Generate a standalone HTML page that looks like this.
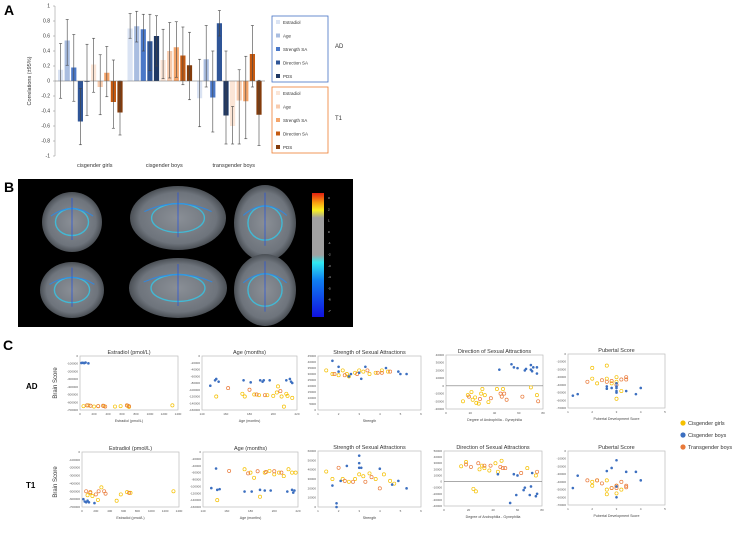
<!DOCTYPE html>
<html><head><meta charset="utf-8">
<style>
html,body{margin:0;padding:0;background:#fff;}
svg{display:block;font-family:"Liberation Sans",sans-serif;}
</style></head>
<body>
<svg id="fig" width="733" height="539" viewBox="0 0 733 539" xmlns="http://www.w3.org/2000/svg">
<defs>
<radialGradient id="brainG" cx="50%" cy="50%" r="50%"><stop offset="0" stop-color="#8a8f96"/><stop offset="0.8" stop-color="#6e747c"/><stop offset="1" stop-color="#4a4f55"/></radialGradient>
<linearGradient id="cbar" x1="0" y1="0" x2="0" y2="1">
<stop offset="0" stop-color="#e02010"/><stop offset="0.08" stop-color="#f8a010"/><stop offset="0.14" stop-color="#f8f020"/><stop offset="0.2" stop-color="#a0a0a0"/><stop offset="0.5" stop-color="#a0a0a0"/><stop offset="0.56" stop-color="#30e8f0"/><stop offset="0.7" stop-color="#1080f0"/><stop offset="1" stop-color="#1010e0"/></linearGradient>
</defs>
<g id="panelA"></g>
<g id="panelB"></g>
<g id="panelC"></g>
</svg>
<script>
// ---------- Panel A data ----------
const groups = ["cisgender girls","cisgender boys","transgender boys"];
const seriesNames = ["Estradiol","Age","Strength SA","Direction SA","PDS"];
const adValues = [[0.15,0.54,0.18,-0.54,-0.01],[0.70,0.73,0.69,0.53,0.60],[-0.23,0.29,-0.22,0.77,-0.46]];
const adLow = [[-0.23,0.21,-0.27,-0.85,-0.46],[0.57,0.52,0.40,0.14,0.20],[-0.61,-0.08,-0.68,0.60,-0.84]];
const adHigh = [[0.50,0.82,0.62,-0.10,0.49],[0.90,0.93,0.89,0.89,0.87],[0.29,0.74,0.40,0.94,0.40]];
const t1Values = [[0.22,-0.08,0.11,-0.28,-0.42],[0.28,0.40,0.45,0.34,0.21],[-0.60,-0.26,-0.27,0.36,-0.45]];
const t1Low = [[-0.15,-0.45,-0.21,-0.63,-0.72],[0.03,0.04,0.05,-0.05,-0.25],[-0.84,-0.84,-0.77,-0.08,-0.86]];
const t1High = [[0.57,0.35,0.46,0.28,0.00],[0.69,0.78,0.79,0.72,0.65],[-0.34,0.15,0.33,0.74,0.01]];
const yTicksA = [1,0.8,0.6,0.4,0.2,0,-0.2,-0.4,-0.6,-0.8,-1];

// ---------- Panel C data: [x,y] pairs ----------
const adEstGirls=[[50,-650000],[120,-640000],[200,-655000],[260,-650000],[340,-648000],[500,-655000],[580,-650000],[680,-645000],[700,-660000],[1320,-640000]];
const adEstBoys=[[20,-90000],[40,-88000],[60,-92000],[80,-85000],[120,-95000]];
const adEstTrans=[[100,-640000],[150,-645000],[260,-650000],[330,-645000],[360,-655000],[670,-640000],[700,-650000]];
const adAgeGirls=[[152,-120000],[174,-112000],[176,-120000],[184,-114000],[188,-116000],[195,-116000],[200,-118000],[204,-90000],[207,-120000],[209,-150000],[211,-112000],[212,-118000],[216,-124000],[203,-108000]];
const adAgeBoys=[[147,-88000],[151,-72000],[152,-68000],[154,-76000],[175,-72000],[181,-78000],[189,-72000],[191,-76000],[192,-72000],[197,-72000],[211,-72000],[214,-68000],[215,-76000],[216,-80000]];
const adAgeTrans=[[162,-95000],[180,-100000],[186,-114000],[193,-116000],[206,-104000]];
const adStrGirls=[[1.4,33000],[1.7,30000],[2.0,29000],[2.2,33000],[2.4,30000],[2.5,28000],[2.8,31000],[3.0,33000],[3.2,32000],[3.5,30000],[3.8,31000],[4.1,33000],[4.4,32000]];
const adStrBoys=[[1.7,41000],[2.0,32000],[2.0,36000],[2.5,28000],[2.6,30000],[3.0,31000],[3.1,26000],[3.3,36000],[4.3,35000],[4.9,32000],[5.0,30000],[5.3,30000]];
const adStrTrans=[[1.8,30000],[2.3,29000],[2.9,30000],[3.4,33000],[3.9,31000],[4.1,31000],[4.5,32000]];
const adDirGirls=[[14,-20000],[18,-12000],[21,-8000],[22,-18000],[24,-15000],[25,-22000],[27,-23000],[29,-10000],[30,-4000],[32,-12000],[35,-21000],[42,-4000],[47,-4000],[70,-2000],[75,-12000]];
const adDirBoys=[[44,21000],[54,28000],[56,24000],[59,23000],[65,20000],[66,22000],[70,27000],[70,21000],[71,19000],[72,24000],[75,24000],[75,16000]];
const adDirTrans=[[19,-14000],[28,-17000],[37,-16000],[45,-10000],[46,-14000],[48,-10000],[50,-18000],[63,-14000],[76,-20000]];
const adPubGirls=[[2.0,-18000],[2.0,-32000],[2.6,-15000],[2.6,-32000],[2.8,-38000],[3.0,-30000],[3.0,-36000],[3.0,-58000],[3.2,-48000],[2.2,-38000]];
const adPubBoys=[[1.2,-54000],[1.4,-52000],[2.6,-42000],[2.6,-45000],[2.8,-44000],[3.0,-38000],[3.0,-42000],[3.0,-44000],[3.0,-48000],[3.0,-50000],[3.4,-48000],[3.8,-52000],[4.0,-44000]];
const adPubTrans=[[1.8,-36000],[2.4,-34000],[2.6,-36000],[2.8,-35000],[3.0,-40000],[3.2,-33000],[3.4,-30000],[3.4,-33000]];
const t1EstGirls=[[80,-550000],[120,-520000],[150,-560000],[230,-610000],[280,-450000],[500,-620000],[560,-540000],[650,-510000],[700,-520000],[1320,-500000]];
const t1EstBoys=[[20,-600000],[40,-630000],[60,-640000],[80,-620000],[100,-640000],[180,-650000]];
const t1EstTrans=[[60,-500000],[120,-510000],[200,-540000],[240,-500000],[320,-500000],[340,-530000],[680,-520000]];
const t1AgeGirls=[[152,-140000],[175,-50000],[180,-60000],[183,-75000],[188,-130000],[192,-60000],[196,-55000],[200,-65000],[204,-60000],[208,-70000],[212,-50000],[215,-60000],[218,-60000]];
const t1AgeBoys=[[147,-105000],[151,-48000],[152,-110000],[154,-108000],[175,-115000],[181,-115000],[188,-110000],[192,-112000],[197,-112000],[211,-115000],[215,-110000],[216,-118000],[217,-112000]];
const t1AgeTrans=[[162,-55000],[178,-62000],[186,-56000],[193,-58000],[200,-56000],[206,-60000]];
const t1StrGirls=[[1.4,38000],[1.7,30000],[2.2,30000],[2.5,27000],[2.8,30000],[3.0,35000],[3.2,33000],[3.5,36000],[3.8,30000],[4.2,35000],[4.5,28000],[4.7,25000]];
const t1StrBoys=[[1.7,23000],[1.9,4000],[1.9,0],[2.1,28000],[2.4,44000],[3.0,55000],[3.0,47000],[3.0,42000],[3.1,42000],[4.0,41000],[4.6,24000],[4.9,28000],[5.3,20000]];
const t1StrTrans=[[2.0,42000],[2.3,28000],[2.7,27000],[3.3,27000],[3.6,32000],[4.0,20000]];
const t1DirGirls=[[14,25000],[18,32000],[24,-12000],[26,-16000],[29,20000],[31,26000],[33,22000],[37,18000],[42,30000],[44,16000],[47,34000],[68,22000],[75,10000]];
const t1DirBoys=[[44,12000],[54,-35000],[57,12000],[59,-22000],[60,10000],[65,-14000],[66,-10000],[70,-22000],[71,-8000],[72,14000],[75,-24000],[76,-20000]];
const t1DirTrans=[[18,28000],[22,24000],[28,30000],[33,26000],[38,26000],[46,24000],[48,22000],[50,22000],[63,14000],[76,16000]];
const t1PubGirls=[[2.0,-40000],[2.0,-45000],[2.6,-38000],[2.6,-50000],[2.6,-56000],[2.8,-48000],[3.0,-45000],[3.0,-55000],[3.2,-50000],[2.2,-38000]];
const t1PubBoys=[[1.2,-48000],[1.4,-32000],[2.6,-26000],[2.8,-22000],[3.0,-12000],[3.0,-46000],[3.0,-60000],[3.4,-27000],[3.8,-27000],[4.0,-38000]];
const t1PubTrans=[[1.8,-38000],[2.2,-38000],[2.4,-42000],[2.8,-48000],[3.0,-45000],[3.0,-48000],[3.2,-40000],[3.4,-45000],[3.4,-47000]];

const NS="http://www.w3.org/2000/svg";
function mk(tag,attrs,parent){const e=document.createElementNS(NS,tag);for(const k in attrs)e.setAttribute(k,attrs[k]);parent.appendChild(e);return e;}
function txt(s,attrs,parent){const e=mk("text",attrs,parent);e.textContent=s;return e;}

// ---------- Panel A ----------
(function(){
const g=document.getElementById("panelA");
const adCol=["#dae3f3","#a9bde0","#4a78c8","#2f5597","#1f3864"];
const t1Col=["#fbe5d6","#f8cbad","#f4a46a","#c55a11","#843c0c"];
const y=v=>81-v*75;
const x0=56, gw=69.5, bw=6.6;
const lbl=txt("A",{x:4,y:15,"font-size":14,"font-weight":"bold"},g);

yTicksA.forEach(t=>{
  const tl=txt(String(t),{x:50,y:y(t)+1.5,"font-size":5,"text-anchor":"end",fill:"#333"},g);
  
  mk("line",{x1:53,x2:55,y1:y(t),y2:y(t),stroke:"#888","stroke-width":0.5},g);
});
mk("line",{x1:55,x2:55,y1:y(1),y2:y(-1),stroke:"#888","stroke-width":0.5},g);
const yt=txt("Correlations (±95%)",{transform:"translate(31,81) rotate(-90)","font-size":5.5,"text-anchor":"middle",fill:"#333"},g);

groups.forEach((gn,gi)=>{
  for(let s=0;s<10;s++){
    const isAD=s<5, k=s%5;
    const v=isAD?adValues[gi][k]:t1Values[gi][k];
    const lo=isAD?adLow[gi][k]:t1Low[gi][k];
    const hi=isAD?adHigh[gi][k]:t1High[gi][k];
    const bx=x0+gi*gw+2+s*bw;
    const r=mk("rect",{x:bx,y:Math.min(y(v),y(0)),width:bw-1.4,height:Math.abs(y(v)-y(0)),fill:isAD?adCol[k]:t1Col[k]},g);
    
    
    const cx=bx+(bw-1.4)/2;
    mk("line",{x1:cx,x2:cx,y1:y(hi),y2:y(lo),stroke:"#444","stroke-width":0.6},g);
    mk("line",{x1:cx-1.5,x2:cx+1.5,y1:y(hi),y2:y(hi),stroke:"#444","stroke-width":0.6},g);
    mk("line",{x1:cx-1.5,x2:cx+1.5,y1:y(lo),y2:y(lo),stroke:"#444","stroke-width":0.6},g);
  }
  const gl=txt(gn,{x:x0+gi*gw+gw/2+4,y:167,"font-size":5.5,"text-anchor":"middle",fill:"#333"},g);
  
});
mk("line",{x1:55,x2:265,y1:y(0),y2:y(0),stroke:"#666","stroke-width":0.6},g);
// legends
[[16,adCol,"#4472c4","AD",48],[87,t1Col,"#ed7d31","T1",120]].forEach(([top,cols,bc,nm,ly])=>{
  const box=mk("rect",{x:272,y:top,width:56,height:66,fill:"#fff",stroke:bc,"stroke-width":0.8},g);
  
  seriesNames.forEach((sn,i)=>{
    mk("rect",{x:276,y:top+4+i*13.5,width:4,height:4,fill:cols[i]},g);
    const e=txt(sn,{x:283,y:top+8+i*13.5,"font-size":4.5,fill:"#333"},g);
    
  });
  const t=txt(nm,{x:335,y:ly,"font-size":6,fill:"#333"},g);
  
});
})();

// ---------- Panel B ----------
(function(){
const g=document.getElementById("panelB");
const l=txt("B",{x:4,y:192,"font-size":14,"font-weight":"bold"},g);

const bg=mk("rect",{x:18,y:179,width:335,height:148,fill:"#000"},g);

const brains=[[72,222,30,30],[178,218,48,32],[265,223,31,38],[72,290,32,28],[178,288,49,30],[265,290,31,36]];
brains.forEach((b,i)=>{
  const e=mk("ellipse",{cx:b[0],cy:b[1],rx:b[2],ry:b[3],fill:"url(#brainG)"},g);
  
  mk("ellipse",{cx:b[0],cy:b[1],rx:b[2]*0.55,ry:b[3]*0.45,fill:"none",stroke:"#35c8e8","stroke-width":1.4,opacity:0.8},g);
  mk("path",{d:`M${b[0]-b[2]*0.7} ${b[1]-b[3]*0.2} Q${b[0]} ${b[1]-b[3]*0.7} ${b[0]+b[2]*0.7} ${b[1]-b[3]*0.2}`,fill:"none",stroke:"#2a8ae8","stroke-width":1.2,opacity:0.8},g);
  mk("line",{x1:b[0],x2:b[0],y1:b[1]-b[3]*0.8,y2:b[1]+b[3]*0.6,stroke:"#2050e0","stroke-width":1,opacity:0.7},g);
});
const cb=mk("rect",{x:312,y:193,width:12,height:124,fill:"url(#cbar)"},g);

["3","2","1","0","-1","-2","-3","-4","-5","-6","-7"].forEach((t,i)=>{
  txt(t,{x:328,y:199+i*11.3,"font-size":3,fill:"#ddd"},g);
});
})();

// ---------- Panel C ----------
(function(){
const g=document.getElementById("panelC");
const l=txt("C",{x:3,y:350,"font-size":14,"font-weight":"bold"},g);

[["AD",389],["T1",488]].forEach(([s,yy])=>{
  const e=txt(s,{x:26,y:yy,"font-size":8,"font-weight":"bold"},g);
  
  const b=txt("Brain Score",{transform:`translate(57,${yy-6}) rotate(-90)`,"font-size":6,"text-anchor":"middle",fill:"#333"},g);
  
});
const cols={g:"#f5c000",b:"#3c6fc0",t:"#e97a3a"};
const plots=[
 {x:80,y:356,w:98,h:54,title:"Estradiol (pmol/L)",xl:"Estradiol (pmol/L)",xr:[0,1400,200],yr:[-700000,0,100000],d:[adEstGirls,adEstBoys,adEstTrans]},
 {x:202,y:356,w:95,h:54,title:"Age (months)",xl:"Age (months)",xr:[140,220,20],yr:[-160000,0,20000],d:[adAgeGirls,adAgeBoys,adAgeTrans]},
 {x:318,y:356,w:103,h:54,title:"Strength of Sexual Attractions",xl:"Strength",xr:[1,6,1],yr:[0,45000,5000],d:[adStrGirls,adStrBoys,adStrTrans]},
 {x:446,y:355,w:97,h:54,title:"Direction of Sexual Attractions",xl:"Degree of Androphilia - Gynephilia",xr:[0,80,20],yr:[-30000,40000,10000],d:[adDirGirls,adDirBoys,adDirTrans],zero:true},
 {x:568,y:354,w:97,h:54,title:"Pubertal Score",xl:"Pubertal Development Score",xr:[1,5,1],yr:[-70000,0,10000],d:[adPubGirls,adPubBoys,adPubTrans]},
 {x:82,y:452,w:97,h:55,title:"Estradiol (pmol/L)",xl:"Estradiol (pmol/L)",xr:[0,1400,200],yr:[-700000,0,100000],d:[t1EstGirls,t1EstBoys,t1EstTrans]},
 {x:203,y:452,w:95,h:55,title:"Age (months)",xl:"Age (months)",xr:[140,220,20],yr:[-160000,0,20000],d:[t1AgeGirls,t1AgeBoys,t1AgeTrans]},
 {x:318,y:451,w:103,h:56,title:"Strength of Sexual Attractions",xl:"Strength",xr:[1,6,1],yr:[0,60000,10000],d:[t1StrGirls,t1StrBoys,t1StrTrans]},
 {x:444,y:451,w:98,h:55,title:"Direction of Sexual Attractions",xl:"Degree of Androphilia - Gynephilia",xr:[0,80,20],yr:[-40000,50000,10000],d:[t1DirGirls,t1DirBoys,t1DirTrans],zero:true},
 {x:568,y:451,w:97,h:54,title:"Pubertal Score",xl:"Pubertal Development Score",xr:[1,5,1],yr:[-70000,0,10000],d:[t1PubGirls,t1PubBoys,t1PubTrans]}
];
plots.forEach((p,pi)=>{
  const sx=v=>p.x+(v-p.xr[0])/(p.xr[1]-p.xr[0])*p.w;
  const sy=v=>p.y+p.h-(v-p.yr[0])/(p.yr[1]-p.yr[0])*p.h;
  const fr=mk("rect",{x:p.x,y:p.y,width:p.w,height:p.h,fill:"#fff",stroke:"#bbb","stroke-width":0.7},g);
  
  const t=txt(p.title,{x:p.x+p.w/2,y:p.y-2,"font-size":5.5,"text-anchor":"middle",fill:"#333"},g);
  
  const xl=txt(p.xl,{x:p.x+p.w/2,y:p.y+p.h+12,"font-size":3.6,"text-anchor":"middle",fill:"#444"},g);
  
  for(let v=p.xr[0];v<=p.xr[1]+1e-9;v+=p.xr[2]) txt(String(v),{x:sx(v),y:p.y+p.h+5,"font-size":3,"text-anchor":"middle",fill:"#555"},g);
  for(let v=p.yr[0];v<=p.yr[1]+1e-9;v+=p.yr[2]) txt(String(v),{x:p.x-2,y:sy(v)+1,"font-size":3,"text-anchor":"end",fill:"#555"},g);
  if(p.zero) mk("line",{x1:p.x,x2:p.x+p.w,y1:sy(0),y2:sy(0),stroke:"#777","stroke-width":0.6},g);
  const [gi,bo,tr]=p.d;
  gi.forEach(q=>{const c=mk("circle",{cx:sx(q[0]),cy:sy(q[1]),r:1.6,fill:"none",stroke:cols.g,"stroke-width":0.7},g);
    });
  tr.forEach(q=>{const c=mk("circle",{cx:sx(q[0]),cy:sy(q[1]),r:1.6,fill:"none",stroke:cols.t,"stroke-width":0.7},g);
    });
  bo.forEach(q=>{const c=mk("circle",{cx:sx(q[0]),cy:sy(q[1]),r:1.3,fill:cols.b},g);
    });
});
[["Cisgender girls",cols.g,423],["Cisgender boys",cols.b,435],["Transgender boys",cols.t,447]].forEach(([n,c,yy])=>{
  mk("circle",{cx:683,cy:yy,r:2.6,fill:c},g);
  const e=txt(n,{x:688,y:yy+2,"font-size":5.5,fill:"#333"},g);
  
});
})();
</script>
</body></html>
